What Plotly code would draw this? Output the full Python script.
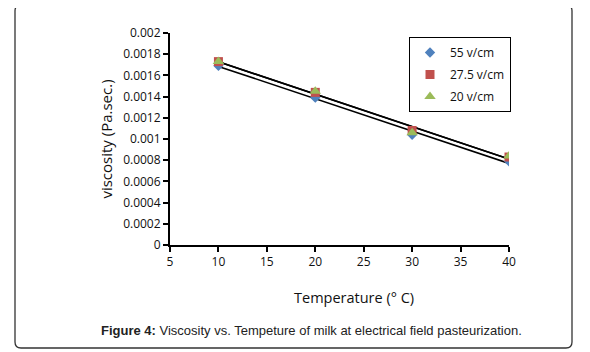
import numpy as np
import plotly.graph_objects as go

# ---- data ----
temperature = [10, 20, 30, 40]
series_names = ["55 v/cm", "27.5 v/cm", "20 v/cm"]
visc_55 = [0.00169, 0.00139, 0.00104, 0.00079]
visc_27_5 = [0.00173, 0.00144, 0.00108, 0.00083]
visc_20 = [0.00173, 0.00145, 0.00106, 0.00084]
y_tick_vals = [0, 0.0002, 0.0004, 0.0006, 0.0008, 0.001, 0.0012, 0.0014, 0.0016, 0.0018, 0.002]
y_tick_text = ["0", "0.0002", "0.0004", "0.0006", "0.0008", "0.001", "0.0012", "0.0014", "0.0016", "0.0018", "0.002"]
x_tick_vals = [5, 10, 15, 20, 25, 30, 35, 40]

OFF = 8  # page body margin
W, H = 590 - OFF, 352 - OFF
L, R, T, B = 170 - OFF, 509 - OFF, 33 - OFF, 245 - OFF  # plot area in figure pixels

def px(x):
    return (x - OFF - L) / (R - L)

def py(y):
    return (B - (y - OFF)) / (B - T)

colors = ["#4F81BD", "#C0504D", "#9BBB59"]
symbols = ["diamond", "square", "triangle-up"]
sizes = [8, 9, 10]
all_series = [visc_55, visc_27_5, visc_20]

fig = go.Figure()

# trend lines
for vals in all_series:
    m, c = np.polyfit(temperature, vals, 1)
    xs = [temperature[0], temperature[-1]]
    fig.add_trace(go.Scatter(x=xs, y=[m * x + c for x in xs], mode="lines",
                             line=dict(color="black", width=1.6),
                             showlegend=False, hoverinfo="skip"))

for i, (name, vals) in enumerate(zip(series_names, all_series)):
    fig.add_trace(go.Scatter(x=temperature, y=vals, mode="markers", name=name,
                             legendgroup=name,
                             marker=dict(symbol=symbols[i], color=colors[i], size=sizes[i])))

FONT = "Open Sans, sans-serif"
tick_font = dict(family=FONT, size=12, color="#111")

fig.update_xaxes(range=[5, 40], tickvals=x_tick_vals, showgrid=False, zeroline=False,
                 showline=True, linecolor="black", linewidth=2,
                 ticks="outside", ticklen=5, tickwidth=1.5, tickcolor="black",
                 tickfont=tick_font)
fig.update_yaxes(range=[0, 0.002], tickvals=y_tick_vals, ticktext=y_tick_text,
                 showgrid=False, zeroline=False,
                 showline=True, linecolor="black", linewidth=2,
                 ticks="outside", ticklen=5, tickwidth=1.5, tickcolor="black",
                 tickfont=tick_font,
                 title=dict(text="viscosity (Pa.sec.)", standoff=7,
                            font=dict(family=FONT, size=15, color="#111")))

# x axis title (placed like the original, right of plot centre)
fig.add_annotation(text="Temperature (° C)", xref="paper", yref="paper",
                   x=px(354), y=py(297), showarrow=False, xanchor="center", yanchor="middle",
                   font=dict(family=FONT, size=14.5, color="#111"))

# outer rounded frame (page pixel coordinates)
fx0, fx1, fy0, fy1, r = 15, 572, 5, 348, 6
path = (f"M {px(fx0 + r)},{py(fy0)} L {px(fx1 - r)},{py(fy0)} Q {px(fx1)},{py(fy0)} {px(fx1)},{py(fy0 + r)} "
        f"L {px(fx1)},{py(fy1 - r)} Q {px(fx1)},{py(fy1)} {px(fx1 - r)},{py(fy1)} "
        f"L {px(fx0 + r)},{py(fy1)} Q {px(fx0)},{py(fy1)} {px(fx0)},{py(fy1 - r)} "
        f"L {px(fx0)},{py(fy0 + r)} Q {px(fx0)},{py(fy0)} {px(fx0 + r)},{py(fy0)} Z")
fig.add_shape(type="path", path=path, xref="paper", yref="paper",
              line=dict(color="#333", width=1.3), layer="below")

fig.add_annotation(text="<b>Figure 4:</b> Viscosity vs. Tempeture of milk at electrical field pasteurization.",
                   xref="paper", yref="paper", x=px(311), y=py(330), showarrow=False,
                   xanchor="center", yanchor="middle",
                   font=dict(family="Liberation Sans, Arial, sans-serif", size=13, color="#222"))

fig.update_layout(
    width=W, height=H,
    margin=dict(l=L, r=W - R, t=T, b=H - B, pad=0),
    plot_bgcolor="white", paper_bgcolor="white",
    showlegend=True,
    legend=dict(x=px(511), y=py(37), xanchor="right", yanchor="top",
                bordercolor="black", borderwidth=1, bgcolor="white",
                traceorder="grouped", tracegroupgap=3,
                font=dict(family=FONT, size=12, color="#111"),
                itemwidth=30),
)

fig.write_html("out.html")
